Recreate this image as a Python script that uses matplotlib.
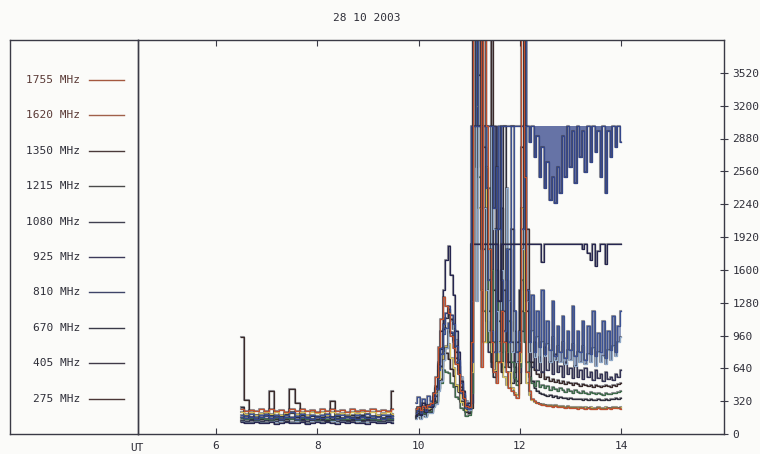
import numpy as np
import matplotlib.pyplot as plt
import matplotlib.patheffects as pe

# time grid (UT hours): quiet part, then the flare part in three pieces
t_quiet = np.linspace(6.5, 9.5, 31)
t_flare = np.concatenate([np.linspace(9.95, 11.05, 23),
                          np.linspace(11.10, 12.10, 21),
                          np.linspace(12.15, 14.00, 38)])

freqs = ['1755 MHz', '1620 MHz', '1350 MHz', '1215 MHz', '1080 MHz',
         '925 MHz', '810 MHz', '670 MHz', '405 MHz', '275 MHz']

# flux values, quiet part (31) + flare part (82)
f1755 = [240, 225, 235, 220, 240, 225, 245, 220, 235, 215, 245, 225, 240, 220, 235, 215,
         240, 225, 245, 220, 235, 215, 240, 225, 235, 220, 245, 220, 235, 225, 240,
         240, 260, 235, 270, 250, 280, 300, 400, 560, 850, 1120, 1340, 1250, 1180, 960, 840,
         680, 580, 420, 350, 270, 260, 900,
         4000, 4000, 4000, 650, 4000, 3000, 1800, 900, 600, 500, 700, 1200, 900, 600, 450,
         420, 380, 350, 800, 4000, 2500,
         600, 420, 340, 320, 300, 290, 285, 280, 275, 270, 265, 270, 260, 265, 260, 255,
         260, 250, 255, 250, 245, 250, 255, 245, 250, 245, 240, 245, 250, 245, 240, 245,
         250, 245, 250, 255, 250, 245]
f1620 = [210, 195, 215, 190, 205, 215, 195, 210, 190, 205, 215, 195, 210, 190, 215, 200,
         210, 190, 215, 195, 205, 190, 215, 200, 210, 195, 215, 190, 205, 210, 195,
         220, 240, 215, 250, 225, 255, 260, 320, 400, 540, 640, 800, 860, 880, 740, 640,
         480, 420, 310, 280, 230, 235, 600,
         4000, 3200, 2200, 1400, 900, 2600, 1500, 800, 620, 700, 900, 700, 560, 480, 600,
         450, 400, 380, 700, 2200, 1200,
         500, 380, 330, 310, 300, 295, 290, 285, 280, 285, 275, 280, 270, 275, 270, 265,
         270, 265, 260, 265, 260, 262, 258, 262, 258, 260, 255, 258, 260, 255, 258, 260,
         255, 258, 260, 262, 258, 260]
f1350 = [260, 180, 165, 185, 160, 175, 190, 165, 180, 195, 200, 170, 185, 160, 180, 170,
         165, 190, 170, 180, 160, 175, 185, 165, 190, 170, 180, 165, 160, 180, 175,
         190, 220, 195, 240, 215, 250, 280, 370, 470, 680, 830, 1020, 1130, 1220, 1120, 1020,
         800, 660, 460, 380, 270, 240, 1850,
         4000, 4000, 3000, 2200, 4000, 1400, 900, 700, 560, 2000, 1100, 800, 3000, 1500, 700,
         500, 600, 900, 1400, 2800, 4000,
         1200, 700, 520, 450, 420, 400, 390, 380, 370, 380, 360, 370, 355, 360, 350, 355,
         345, 350, 340, 345, 340, 345, 335, 340, 335, 340, 330, 335, 340, 330, 335, 340,
         335, 340, 345, 350, 345, 350]
f1215 = [160, 145, 155, 140, 160, 150, 140, 155, 145, 160, 150, 140, 155, 150, 145, 140,
         160, 150, 140, 155, 145, 150, 160, 140, 150, 160, 145, 140, 155, 150, 145,
         170, 190, 170, 200, 180, 210, 220, 280, 320, 440, 500, 620, 600, 590, 500, 460,
         360, 340, 250, 230, 180, 190, 400,
         3000, 4000, 2500, 1800, 1200, 900, 2400, 1600, 900, 700, 1300, 900, 650, 800, 1100,
         700, 550, 480, 650, 1500, 900,
         700, 560, 500, 470, 520, 460, 480, 450, 470, 430, 460, 440, 420, 450, 430, 410,
         440, 420, 400, 430, 410, 400, 420, 400, 390, 410, 395, 385, 400, 390, 380, 395,
         385, 390, 400, 395, 410, 420]
f1080 = [140, 125, 135, 145, 125, 135, 140, 125, 140, 130, 145, 125, 140, 130, 125, 140,
         135, 125, 145, 130, 140, 125, 135, 145, 125, 135, 140, 130, 125, 140, 135,
         160, 185, 160, 200, 175, 210, 215, 270, 310, 450, 540, 720, 840, 1000, 980, 920,
         740, 620, 430, 350, 240, 210, 300,
         4000, 2600, 4000, 3000, 1800, 1100, 800, 650, 3000, 1600, 900, 2200, 1200, 700, 1800,
         900, 650, 520, 600, 1000, 4000,
         1400, 800, 650, 900, 620, 750, 600, 850, 620, 700, 580, 780, 600, 660, 560, 700,
         580, 640, 550, 660, 560, 620, 540, 640, 560, 600, 530, 620, 550, 580, 520, 600,
         540, 560, 530, 580, 560, 620]
f925 = [125, 115, 120, 130, 115, 120, 125, 115, 130, 120, 115, 125, 120, 110, 125, 130,
        115, 120, 125, 115, 130, 115, 120, 125, 115, 120, 130, 115, 120, 125, 115,
        150, 175, 150, 190, 165, 200, 205, 260, 290, 420, 520, 720, 840, 1020, 1100, 1020,
        920, 700, 560, 380, 320, 230, 1300,
        4000, 1300, 3000, 4000, 2200, 1400, 1000, 3000, 2000, 1200, 800, 1600, 1000, 2400, 1300,
        800, 1200, 700, 900, 1800, 3000,
        1300, 800, 1000, 750, 950, 700, 900, 760, 880, 700, 950, 720, 860, 700, 900, 680,
        820, 720, 880, 660, 800, 700, 860, 680, 780, 700, 840, 660, 800, 700, 760, 680,
        820, 720, 860, 760, 900, 950]
f810 = [190, 175, 195, 170, 185, 195, 175, 190, 170, 185, 210, 180, 195, 170, 190, 175,
        185, 195, 170, 185, 190, 175, 170, 190, 180, 195, 175, 170, 185, 190, 175,
        300, 360, 270, 340, 290, 370, 320, 400, 440, 620, 780, 970, 1030, 1080, 990, 900,
        700, 580, 400, 340, 250, 240, 700,
        4000, 3000, 4000, 1800, 3000, 2400, 1500, 1000, 800, 2000, 3000, 1500, 1000, 1800, 900,
        3000, 1200, 800, 1000, 2000, 4000,
        1400, 900, 1350, 800, 1200, 850, 1400, 780, 1100, 820, 1300, 760, 1050, 800, 1150, 740,
        1000, 820, 1250, 760, 1000, 800, 1100, 720, 1050, 780, 1200, 760, 980, 800, 1100, 740,
        1000, 820, 1150, 800, 1050, 1200]
f670 = [115, 105, 110, 120, 105, 110, 115, 100, 110, 120, 105, 110, 115, 100, 110, 120,
        105, 115, 110, 100, 115, 110, 120, 105, 110, 100, 115, 110, 105, 120, 110,
        180, 260, 190, 300, 210, 280, 260, 320, 450, 700, 1000, 1400, 1700, 1835, 1550, 1350,
        1000, 800, 520, 420, 280, 300, 1850,
        1850, 1850, 1850, 1850, 1850, 1850, 1850, 1850, 1850, 1850, 1300, 1850, 1850, 1850, 1850,
        1850, 1850, 1850, 1850, 1850, 1850,
        1850, 1850, 1850, 1850, 1850, 1850, 1680, 1850, 1850, 1850, 1850, 1850, 1850, 1850, 1850, 1850,
        1850, 1850, 1850, 1850, 1850, 1850, 1800, 1850, 1760, 1700, 1850, 1640, 1780, 1850, 1850, 1660,
        1850, 1850, 1850, 1850, 1850, 1850]
f405 = [165, 155, 170, 150, 165, 175, 155, 165, 150, 170, 165, 150, 170, 160, 150, 170,
        155, 165, 170, 150, 160, 170, 155, 150, 170, 160, 155, 170, 150, 165, 160,
        200, 230, 205, 260, 225, 270, 280, 360, 450, 660, 840, 1070, 1180, 1250, 1160, 1070,
        860, 720, 500, 400, 290, 270, 3000,
        3000, 3000, 3000, 3000, 3000, 3000, 3000, 3000, 2200, 2600, 2000, 3000, 3000, 3000, 3000,
        3000, 3000, 3000, 3000, 3000, 3000,
        3000, 2850, 3000, 2700, 2900, 2500, 2800, 2400, 2650, 2280, 2500, 2250, 2600, 2350, 2900, 2500,
        3000, 2600, 2950, 2450, 3000, 2700, 2950, 2550, 3000, 2650, 3000, 2750, 2950, 2500, 3000, 2350,
        2950, 2700, 3000, 2800, 3000, 2850]
f275 = [950, 330, 150, 140, 145, 150, 420, 145, 140, 150, 440, 300, 150, 145, 140, 150,
        145, 140, 320, 150, 145, 140, 150, 145, 140, 150, 145, 140, 150, 145, 420,
        170, 200, 175, 220, 190, 230, 240, 310, 370, 540, 660, 840, 790, 730, 630, 570,
        470, 410, 320, 280, 210, 200, 250,
        4000, 4000, 3500, 4000, 2800, 1800, 1200, 4000, 1400, 900, 700, 600, 1400, 900, 650,
        2000, 1000, 700, 500, 1200, 4000,
        2000, 900, 700, 620, 580, 560, 600, 540, 560, 520, 540, 510, 530, 500, 520, 490,
        510, 500, 480, 500, 490, 470, 490, 480, 470, 480, 460, 480, 470, 460, 470, 480,
        470, 460, 480, 470, 490, 500]
clip_level = 3000

series = [f1755, f1620, f1350, f1215, f1080, f925, f810, f670, f405, f275]
colors = ['#c0502f', '#d6c25a', '#2d2d3a', '#3e6b4a', '#333355',
          '#8fa9c9', '#3c5294', '#262650', '#34468a', '#3a2a2a']
legend_colors = ['#a4583f', '#a0604a', '#4a3a3a', '#4a4a4a', '#404050',
                 '#3c3a5a', '#3e4468', '#3a3a48', '#403a48', '#4a3636']
draw_order = [9, 4, 2, 3, 1, 5, 6, 7, 8, 0]

x_ticks = [6, 8, 10, 12, 14]
y_ticks = list(range(0, 3521, 320))

edge = '#3a3a46'
txt = '#2e2e38'
mono = 'DejaVu Sans Mono'

fig = plt.figure(figsize=(7.6, 4.54), dpi=100)
fig.patch.set_facecolor('#fbfbf9')

W, H = 760, 454
ax = fig.add_axes([138 / W, 1 - 434 / H, (724 - 138) / W, 394 / H])
leg = fig.add_axes([10 / W, 1 - 434 / H, (138 - 10) / W, 394 / H])

# thin dark rim around each trace, like the printed original
rim = [pe.Stroke(linewidth=1.5, foreground='#2a2a36', alpha=0.5), pe.Normal()]

n_q = len(t_quiet)
sat = t_flare >= 11.08
tail = t_flare >= 12.12

# the dense post-flare traces read as shaded bands in the original
ax.fill_between(t_flare[sat], np.array(f405[n_q:], float)[sat], clip_level,
                step='mid', color='#34468a', alpha=0.75, lw=0)
ax.fill_between(t_flare[tail], np.array(f925[n_q:], float)[tail],
                np.array(f810[n_q:], float)[tail], step='mid',
                color='#3c5294', alpha=0.55, lw=0)

for i in draw_order:
    vals = np.array(series[i], dtype=float)
    for tt, vv in ((t_quiet, vals[:n_q]), (t_flare, vals[n_q:])):
        ax.plot(tt, vv, color=colors[i], lw=0.9, drawstyle='steps-mid',
                path_effects=rim)

ax.set_xlim(4.46, 16.03)
ax.set_ylim(0, 3840)
ax.set_facecolor('none')
ax.set_xticks(x_ticks)
ax.set_xticklabels([str(v) for v in x_ticks], family=mono, fontsize=8, color=txt)
ax.set_yticks(y_ticks)
ax.set_yticklabels([str(v) for v in y_ticks], family=mono, fontsize=8, color=txt)
ax.yaxis.tick_right()
ax.tick_params(axis='x', direction='in', length=4, top=True, bottom=True,
               color=edge, pad=5)
ax.tick_params(axis='y', direction='inout', length=6, left=False, right=True,
               color=edge, pad=3)
for s in ax.spines.values():
    s.set_color(edge)
    s.set_linewidth(1.0)
fig.text(137 / W, 1 - 448 / H, 'UT', fontsize=8, family=mono, color=txt,
         ha='center', va='center')

# left panel with the channel list
leg.set_xlim(10, 138)
leg.set_ylim(434, 40)
leg.set_xticks([])
leg.set_yticks([])
leg.set_facecolor('none')
for s in leg.spines.values():
    s.set_color(edge)
    s.set_linewidth(1.0)
for k, name in enumerate(freqs):
    y = 80 + k * 35.4
    leg.text(80, y, name, ha='right', va='center', family=mono, fontsize=8,
             color='#5a3a36' if k < 2 else txt)
    leg.plot([89, 124], [y, y], color=legend_colors[k], lw=1.0)

fig.text(367 / W, 1 - 18 / H, '28 10 2003', ha='center', va='center',
         family=mono, fontsize=8, color=txt)

fig.savefig('out.png', dpi=100, facecolor=fig.get_facecolor())
